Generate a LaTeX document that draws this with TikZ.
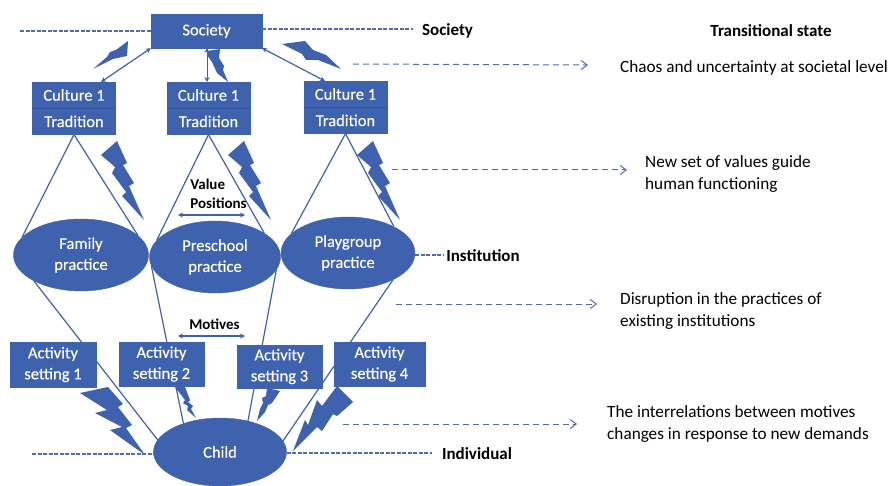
\documentclass[tikz,border=0pt]{standalone}
\usepackage{fontspec}
\setmainfont{Carlito}
\newfontfamily\medf[FakeBold=0.35]{Carlito}
\usetikzlibrary{shapes.geometric,arrows.meta}
\definecolor{bl}{HTML}{3F62AE}
\definecolor{bd}{HTML}{34559C}
\definecolor{dsh}{HTML}{4F6BB2}
\tikzset{
 bx/.style={rectangle,fill=bl,draw=bl,text=white,inner sep=0pt,align=center,font=\medf\fontsize{16.5}{21}\selectfont},
 ell/.style={ellipse,fill=bl,draw=bl,text=white,inner sep=0pt,align=center,font=\medf\fontsize{16.5}{21}\selectfont},
 link/.style={draw=bl,line width=1.2pt},
 both/.style={draw=bl,line width=1.2pt,{Stealth[length=5pt,width=5pt]}-{Stealth[length=5pt,width=5pt]}},
 bolt/.style={fill=bl,draw=none},
 lvl/.style={draw=dsh,line width=1.2pt,dash pattern=on 4pt off 1.5pt},
 tr/.style={draw=dsh,line width=1pt,dash pattern=on 6pt off 4pt,-{Straight Barb[length=6pt,width=9pt]}},
 lab/.style={text=black,inner sep=0pt,font=\fontsize{17}{21}\selectfont\bfseries,align=left},
 note/.style={text=black,inner sep=0pt,font=\fontsize{17.2}{22}\selectfont,align=left,anchor=west},
}
\begin{document}
\begin{tikzpicture}[x=1pt,y=-1pt]
\useasboundingbox (0,0) rectangle (890,486);
% nodes
\node[bx,minimum width=111pt,minimum height=34pt] (soc) at (206.5,31) {Society};
\foreach \n/\x/\y in {a/74/95,b/208.5/95,c/345.5/94}{
  \node[bx,minimum width=83pt,minimum height=26pt] (c\n) at (\x,\y) {Culture 1};
  \node[bx,minimum width=83pt,minimum height=26pt,anchor=north] (t\n) at (c\n.south) {Tradition};
  \draw[bd,line width=.8pt] (c\n.south west) -- (c\n.south east);
}
\node[ell,minimum width=135pt,minimum height=72pt] (fam) at (81,255) {Family\\practice};
\node[ell,minimum width=131pt,minimum height=72pt] (pre) at (215,257) {Preschool\\practice};
\node[ell,minimum width=134pt,minimum height=72pt] (pla) at (348,253) {Playgroup\\practice};
\node[ell,minimum width=133pt,minimum height=68pt] (chi) at (220,452) {Child};
% connectors behind activity boxes
\draw[link] (ta.south) -- (fam.163);
\draw[link] (ta.south) -- (fam.19);
\draw[link] (tb.south) -- (pre.164);
\draw[link] (tb.south) -- (pre.26);
\draw[link] (tc.south) -- (pla.161);
\draw[link] (tc.south) -- (pla.30);
\draw[link] (fam.209) -- (chi.169);
\draw[link] (pre.188) -- (chi.142);
\draw[link] (pre.-12) -- (chi.48);
\draw[link] (pla.-31) -- (chi.10);
\node[bx,minimum width=86pt,minimum height=45pt] (a1) at (53,364.5) {Activity\\setting 1};
\node[bx,minimum width=85pt,minimum height=44pt] (a2) at (161.5,364) {Activity\\setting 2};
\node[bx,minimum width=85pt,minimum height=43pt] (a3) at (279.5,366.5) {Activity\\setting 3};
\node[bx,minimum width=91pt,minimum height=44pt] (a4) at (379.5,364) {Activity\\setting 4};
% double arrows
\coordinate (ea) at (101,82); \coordinate (eb) at (207,82); \coordinate (ec) at (325,81); \coordinate (sb) at (207,48);
\draw[both] (soc.south west) -- (ea);
\draw[both,line width=.7pt] (sb) -- (eb);
\draw[both] (soc.south east) -- (ec);
% bolts
\fill[bolt] (128,41)--(127,56)--(113,59)--(93,69)--(107,57)--(110,52)--(116,50)--cycle;
\fill[bolt] (207,51)--(220,49)--(219,58)--(224,66)--(223,70)--(228,82)--(217,73)--(212,62)--(207,55)--cycle;
\fill[bolt] (282,44)--(305,41)--(313,50)--(326,55)--(341,69)--(318,60)--(306,60)--(302,54)--cycle;
\foreach \dx in {0,127,256}{
 \begin{scope}[shift={(\dx,0)}]
 \fill[bolt] (101,155)--(117,141)--(127,163)--(123,165)--(134,183)--(129,186)--(144,220)--(122,196)--(126,192)--(112,173)--(115,167)--cycle;
 \end{scope}}
\fill[bolt] (80,393)--(108,387)--(123,404)--(118,407)--(132,425)--(126,428)--(145,455)--(110,430)--(122,427)--(95,413)--(107,410)--cycle;
\fill[bolt] (175,387)--(185,387)--(190,400)--(188,402)--(193,406)--(191,409)--(196,418)--(187,410)--(188,406)--(183,403)--(185,400)--cycle;
\fill[bolt] (267,388)--(280,391)--(272,403)--(268,405)--(265,412)--(257,421)--(260,409)--(263,403)--(262,398)--(266,396)--cycle;
\fill[bolt] (337,386)--(353,402)--(337,416)--(333,414)--(322,431)--(317,427)--(293,451)--(305,420)--(308,425)--(317,400)--(322,406)--cycle;
% level dashes
\coordinate (s0) at (20,31); \coordinate (s1) at (413,29);
\coordinate (i1) at (443,255);
\coordinate (k0) at (32,454); \coordinate (k1) at (432,453);
\draw[lvl] (s0) -- (soc.west |- s0);
\draw[lvl] (soc.east |- s1) -- (s1);
\draw[lvl] (pla.east |- i1) -- (i1);
\draw[lvl] (k0) -- (chi.west |- k0);
\draw[lvl] (chi.east |- k1) -- (k1);
% transition arrows
\coordinate (p0) at (353,64); \coordinate (p1) at (588,65);
\coordinate (q0) at (392,170); \coordinate (q1) at (627,170);
\coordinate (r0) at (396,304); \coordinate (r1) at (597,304);
\coordinate (u0) at (343,424); \coordinate (u1) at (577,424);
\draw[tr] (p0) -- (p1);
\draw[tr] (q0) -- (q1);
\draw[tr] (r0) -- (r1);
\draw[tr] (u0) -- (u1);
% labels
\node[lab] (l1) at (447.5,31) {Society};
\node[lab] (l2) at (483,256) {Institution};
\node[lab] (l3) at (477,454) {Individual};
\node[lab] (l4) at (771,31) {Transitional state};
\node[lab,font=\fontsize{15}{19}\selectfont\bfseries] (v) at (218.5,194) {Value\\Positions};
\node[lab,font=\fontsize{15}{16}\selectfont\bfseries] (m) at (214.5,324) {Motives};
\coordinate (v0) at (178,215); \coordinate (v1) at (245,215);
\coordinate (m0) at (178,336); \coordinate (m1) at (245,336);
\draw[both] (v0) -- (v1);
\draw[both] (m0) -- (m1);
\node[note] (n1) at (620,68) {Chaos and uncertainty at societal level};
\node[note] (n2) at (645,174) {New set of values guide\\human functioning};
\node[note] (n3) at (620,311) {Disruption in the practices of\\existing institutions};
\node[note] (n4) at (607,424) {The interrelations between motives\\changes in response to new demands};
\end{tikzpicture}
\end{document}
